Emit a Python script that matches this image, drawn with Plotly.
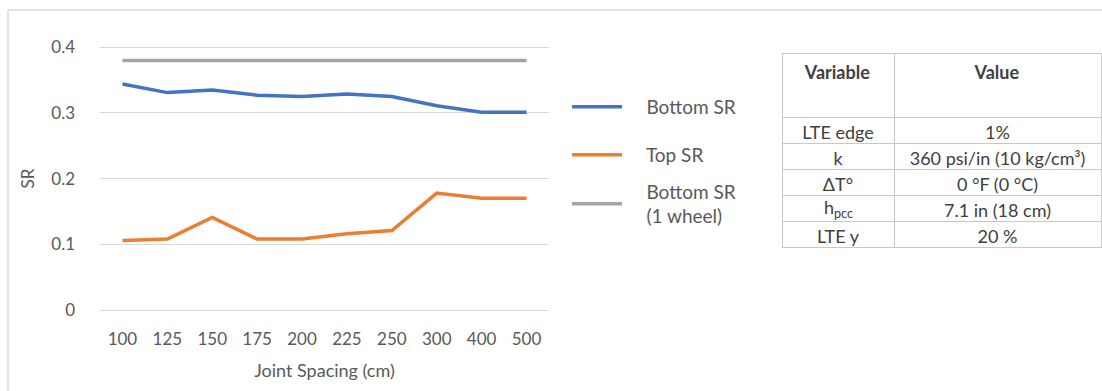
import plotly.graph_objects as go

# Joint spacing categories (cm) and stress ratio series
joint_spacing = ["100", "125", "150", "175", "200", "225", "250", "300", "400", "500"]
bottom_sr = [0.344, 0.331, 0.335, 0.327, 0.325, 0.329, 0.325, 0.311, 0.301, 0.301]
top_sr = [0.106, 0.108, 0.141, 0.108, 0.108, 0.116, 0.121, 0.178, 0.170, 0.170]
bottom_sr_1wheel = [0.38, 0.38, 0.38, 0.38, 0.38, 0.38, 0.38, 0.38, 0.38, 0.38]

# Input parameters table
table_variables = ["LTE edge", "k", "ΔT°", "h<sub>pcc</sub>", "LTE y"]
table_values = ["1%", "360 psi/in (10 kg/cm³)", "0 °F (0 °C)", "7.1 in (18 cm)", "20 %"]

W, H = 1102, 391
FONT = "Lato"
TXT = "#595959"
TABLE_TXT = "#404040"
PAD = "\u00a0" * 4  # gap between legend sample line and its label

# table geometry (px)
TBL_LEFT, TBL_SPLIT, TBL_RIGHT = 782, 894, 1101
TBL_TOP, HEADER_H, ROW_H = 53, 64, 26


def px_x(v):
    return v / W


def px_y(v):
    return 1 - v / H


def has_markup(s):
    return "<" in s


fig = go.Figure()

series = [
    (PAD + "Bottom SR", bottom_sr, "#4472C4", "legend", 107),
    (PAD + "Top SR", top_sr, "#ED7D31", "legend2", 155),
    (PAD + "Bottom SR<br>" + PAD + "(1 wheel)", bottom_sr_1wheel, "#A5A5A5", "legend3", 204),
]
for name, vals, color, leg, _ in series:
    fig.add_trace(go.Scatter(
        x=joint_spacing, y=vals, mode="lines", name=name,
        line=dict(color=color, width=3.5),
        legend=leg,
    ))

# Table cells with sub/superscript markup would make plotly grow the row,
# so those labels are laid over their (empty) cell as annotations instead.
plain_variables = ["" if has_markup(v) else v for v in table_variables]
cell_annotations = []
for i, v in enumerate(table_variables):
    if has_markup(v):
        cell_annotations.append(dict(
            text=v, xref="paper", yref="paper",
            x=px_x((TBL_LEFT + TBL_SPLIT) / 2),
            y=px_y(TBL_TOP + HEADER_H + ROW_H * (i + 0.5)),
            xanchor="center", yanchor="middle", showarrow=False,
            font=dict(family=FONT, size=18, color=TABLE_TXT),
        ))

fig.add_trace(go.Table(
    domain=dict(x=[px_x(TBL_LEFT), px_x(TBL_RIGHT)], y=[0, px_y(TBL_TOP)]),
    columnwidth=[TBL_SPLIT - TBL_LEFT, TBL_RIGHT - TBL_SPLIT],
    header=dict(
        values=["<b>Variable</b>", "<b>Value</b>"],
        height=HEADER_H,
        align="center",
        fill_color="white",
        line=dict(color="#c8c8c8", width=1),
        font=dict(family=FONT, size=18, color=TABLE_TXT),
    ),
    cells=dict(
        values=[plain_variables, table_values],
        height=ROW_H,
        align="center",
        fill_color="white",
        line=dict(color="#c8c8c8", width=1),
        font=dict(family=FONT, size=18, color=TABLE_TXT),
    ),
))

legend_style = dict(
    xanchor="left", yanchor="middle",
    font=dict(family=FONT, size=19, color=TXT),
    bgcolor="rgba(0,0,0,0)",
    itemwidth=50,
    borderwidth=0,
)
legends = {}
for _, _, _, leg, ymid in series:
    legends[leg] = dict(legend_style, x=px_x(567), y=px_y(ymid))

# y axis: 0.1 per 65.7 px, range padded slightly so the end gridlines show
Y_PAD = 0.01
fig.update_layout(
    width=W, height=H,
    margin=dict(l=0, r=0, t=0, b=0, autoexpand=False),
    paper_bgcolor="white",
    plot_bgcolor="white",
    font=dict(family=FONT, color=TXT),
    showlegend=True,
    **legends,
    annotations=cell_annotations,
    xaxis=dict(
        domain=[px_x(100), px_x(549)],
        type="category",
        range=[-0.5, 9.5],
        showgrid=False, zeroline=False, showline=False,
        ticks="", ticklabelstandoff=10,
        tickfont=dict(family=FONT, size=17, color=TXT),
        title=dict(text="Joint Spacing (cm)", standoff=16,
                   font=dict(family=FONT, size=18, color=TXT)),
        fixedrange=True,
    ),
    yaxis=dict(
        domain=[px_y(310 + 6.57), px_y(47.3 - 6.57)],
        range=[-Y_PAD, 0.4 + Y_PAD],
        tickvals=[0, 0.1, 0.2, 0.3, 0.4],
        ticktext=["0", "0.1", "0.2", "0.3", "0.4"],
        showgrid=True, gridcolor="#d9d9d9", gridwidth=1,
        zeroline=False, showline=False,
        ticks="", ticklabelstandoff=24,
        tickfont=dict(family=FONT, size=17, color=TXT),
        title=dict(text="SR", standoff=12,
                   font=dict(family=FONT, size=17, color=TXT)),
        fixedrange=True,
    ),
    shapes=[
        dict(type="line", xref="paper", yref="paper",
             x0=px_x(8), x1=1, y0=px_y(10), y1=px_y(10),
             line=dict(color="#d9d9d9", width=1.5)),
        dict(type="line", xref="paper", yref="paper",
             x0=px_x(8), x1=px_x(8), y0=px_y(10), y1=0,
             line=dict(color="#d9d9d9", width=1.5)),
    ],
)

fig.write_html("out.html")
